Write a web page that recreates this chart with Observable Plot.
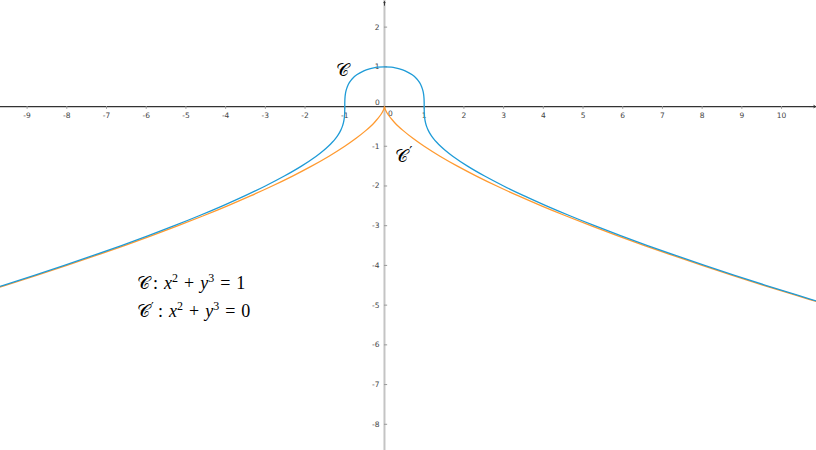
<!DOCTYPE html>
<html><head><meta charset="utf-8">
<script src="https://cdn.jsdelivr.net/npm/d3@7"></script>
<script src="https://cdn.jsdelivr.net/npm/@observablehq/plot@0.6"></script>
<style>body{margin:0;background:#fff} #chart{width:816px;height:450px}</style>
</head><body><div id="chart"></div>
<script>
// Curve C : x^2 + y^3 = 1  (positive-x branch)
const cY = [-5, -4.75, -4.5, -4.25, -4, -3.75, -3.5, -3.25, -3, -2.75, -2.5, -2.25, -2, -1.75, -1.5, -1.25, -1.1, -1, -0.9, -0.8, -0.7, -0.6, -0.5, -0.4, -0.3, -0.2, 0, 0.1, 0.2, 0.3, 0.4, 0.5, 0.6, 0.7, 0.8, 0.9, 0.95, 0.975, 0.99, 1];
const cX = [11.22497, 10.40057, 9.59817, 8.81848, 8.06226, 7.33037, 6.62382, 5.94375, 5.29150, 4.66871, 4.07738, 3.52003, 3, 2.52178, 2.09165, 1.71846, 1.52676, 1.41421, 1.31491, 1.22963, 1.15888, 1.10272, 1.06066, 1.03150, 1.01341, 1.00399, 1, 0.9995, 0.99599, 0.98641, 0.96747, 0.93541, 0.88544, 0.81056, 0.69857, 0.52058, 0.37766, 0.27045, 0.17234, 0];
// Curve C' : x^2 + y^3 = 0
const pY = [-5, -4.75, -4.5, -4.25, -4, -3.75, -3.5, -3.25, -3, -2.75, -2.5, -2.25, -2, -1.75, -1.5, -1.25, -1, -0.8, -0.6, -0.5, -0.4, -0.3, -0.2, -0.1, -0.05, 0];
const pX = [11.18034, 10.35239, 9.54594, 8.76159, 8, 7.26184, 6.54790, 5.85903, 5.19615, 4.56036, 3.95285, 3.375, 2.82843, 2.31503, 1.83712, 1.39754, 1, 0.71554, 0.46476, 0.35355, 0.25298, 0.16432, 0.08944, 0.03162, 0.01118, 0];

const xTicks = [-9, -8, -7, -6, -5, -4, -3, -2, -1, 1, 2, 3, 4, 5, 6, 7, 8, 9, 10];
const yTicks = [-8, -7, -6, -5, -4, -3, -2, -1, 1, 2];

const curveLabels = [
  {text: "\u{1D49E}", prime: "", x: -1.23, y: 0.91},
  {text: "\u{1D49E}", prime: "\u2032", x: 0.27, y: -1.25}
];
const legendLines = [
  {c: "\u{1D49E}", prime: "", rhs: "1", x: -6.22, y: -4.61},
  {c: "\u{1D49E}", prime: "\u2032", rhs: "0", x: -6.22, y: -5.30}
];

function loop(ys, xs) {
  const out = [];
  for (let i = 0; i < ys.length; i++) out.push({x: -xs[i], y: ys[i]});
  for (let i = ys.length - 2; i >= 0; i--) out.push({x: xs[i], y: ys[i]});
  return out;
}
const dataC = loop(cY, cX);
const dataP = loop(pY, pX);

const fmt = d => (d < 0 ? "-" : "") + Math.abs(d);
const serif = "'Liberation Serif', 'DejaVu Serif', serif";

const chart = Plot.plot({
  width: 816, height: 450, margin: 0,
  x: {domain: [-9.67, 10.88], axis: null},
  y: {domain: [-8.66, 2.67], axis: null},
  style: {background: "#fff"},
  marks: [
    Plot.ruleX([0], {stroke: "#c4c4c4", strokeWidth: 2}),
    Plot.ruleY([0], {stroke: "#333", strokeWidth: 1.2}),
    Plot.ruleX(xTicks, {x: d => d, y1: 0, y2: -0.07, stroke: "#999"}),
    Plot.ruleY(yTicks, {y: d => d, x1: 0, x2: 0.08, stroke: "#999"}),
    Plot.text(xTicks, {x: d => d, y: 0, dy: 9, text: fmt, fontSize: 7.5, fill: "#444", fontFamily: "DejaVu Sans"}),
    Plot.text(yTicks, {x: 0, y: d => d, dx: -5, textAnchor: "end", text: fmt, fontSize: 7.5, fill: "#444", fontFamily: "DejaVu Sans"}),
    Plot.text([0], {x: 0, y: 0, dx: -7, dy: -4, text: d => String(d), fontSize: 7.5, fill: "#444", fontFamily: "DejaVu Sans"}),
    Plot.text([0], {x: 0, y: 0, dx: 6, dy: 7, text: d => String(d), fontSize: 7.5, fill: "#444", fontFamily: "DejaVu Sans"}),
    Plot.line(dataP, {x: "x", y: "y", stroke: "#ff9a30", strokeWidth: 1.3, curve: "catmull-rom", clip: true}),
    Plot.line(dataC, {x: "x", y: "y", stroke: "#1e9bd7", strokeWidth: 1.3, curve: "catmull-rom", clip: true}),
    Plot.arrow([0], {x1: 0, y1: 2.55, x2: 0, y2: 2.64, stroke: "#333", strokeWidth: 1, headLength: 6}),
    Plot.arrow([0], {x1: 10.7, y1: 0, x2: 10.86, y2: 0, stroke: "#333", strokeWidth: 1, headLength: 6}),
    Plot.text(curveLabels, {x: "x", y: "y", text: "text", textAnchor: "start", fontSize: 18, fontFamily: serif, fill: "#000"}),
    Plot.text(curveLabels, {x: "x", y: "y", text: "prime", textAnchor: "start", dx: 14, dy: -5, fontSize: 14, fontFamily: "DejaVu Sans", fill: "#000"})
  ]
});
document.getElementById("chart").appendChild(chart);

// legend text with italic variables and superscripts, positioned through the plot scales
const sx = chart.scale("x"), sy = chart.scale("y");
const svg = d3.select(chart);
for (const L of legendLines) {
  const X = sx.apply(L.x), Y = sy.apply(L.y);
  svg.append("text").attr("x", X).attr("y", Y).attr("text-anchor", "start")
    .attr("font-family", serif).attr("font-size", 18).attr("fill", "#000").text(L.c);
  if (L.prime) {
    svg.append("text").attr("x", X + 14).attr("y", Y - 6).attr("text-anchor", "start")
      .attr("font-family", "DejaVu Sans").attr("font-size", 12).attr("fill", "#000").text(L.prime);
  }
  const t = svg.append("text")
    .attr("x", X + (L.prime ? 21 : 16)).attr("y", Y)
    .attr("text-anchor", "start").attr("word-spacing", "1.5px")
    .attr("font-family", serif).attr("font-size", 18).attr("fill", "#000");
  t.append("tspan").text(": ");
  t.append("tspan").attr("font-style", "italic").text("x");
  t.append("tspan").attr("font-size", 12).attr("dy", -7).text("2");
  t.append("tspan").attr("dy", 7).text(" + ");
  t.append("tspan").attr("font-style", "italic").text("y");
  t.append("tspan").attr("font-size", 12).attr("dy", -7).text("3");
  t.append("tspan").attr("dy", 7).text(" = " + L.rhs);
}
</script>
</body></html>
